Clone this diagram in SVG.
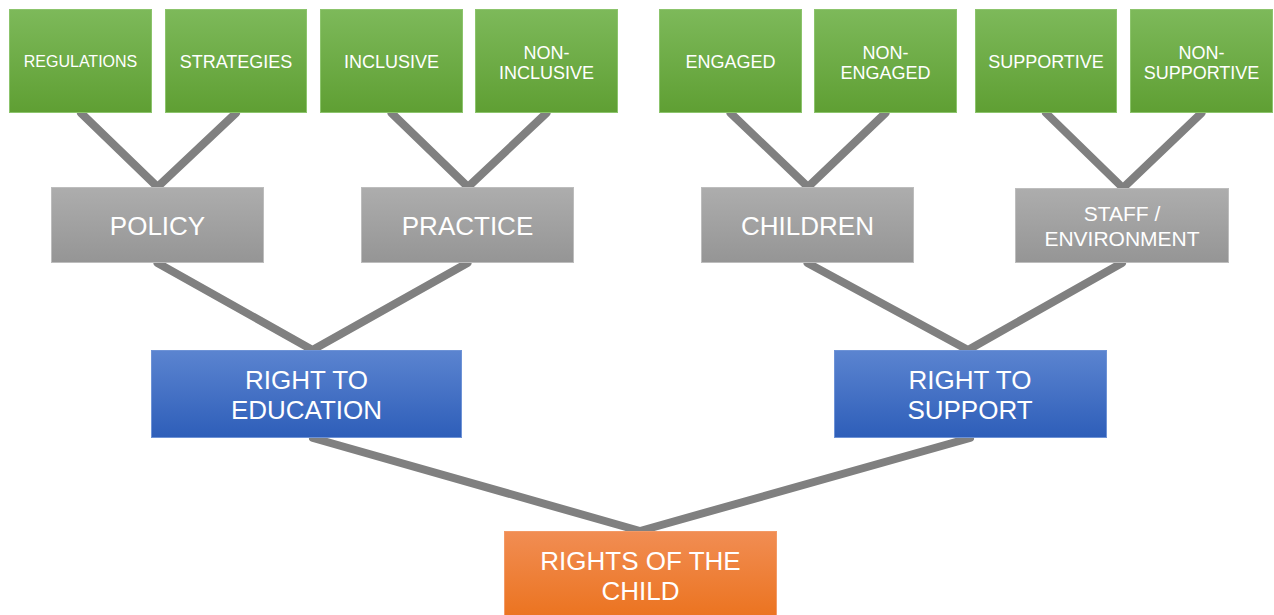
<svg xmlns="http://www.w3.org/2000/svg" width="1274" height="615" viewBox="0 0 1274 615">
<defs>
<linearGradient id="gGreen" x1="0" y1="0" x2="0" y2="1"><stop offset="0" stop-color="#7db95a"/><stop offset="1" stop-color="#5f9f33"/></linearGradient>
<linearGradient id="gGray" x1="0" y1="0" x2="0" y2="1"><stop offset="0" stop-color="#adadad"/><stop offset="1" stop-color="#959595"/></linearGradient>
<linearGradient id="gBlue" x1="0" y1="0" x2="0" y2="1"><stop offset="0" stop-color="#5b84d0"/><stop offset="1" stop-color="#2e5eb9"/></linearGradient>
<linearGradient id="gOrange" x1="0" y1="0" x2="0" y2="1"><stop offset="0" stop-color="#f18d53"/><stop offset="1" stop-color="#eb721d"/></linearGradient>
</defs>
<style>
.line{fill:none;stroke:#808080;stroke-width:8;stroke-linecap:round;stroke-linejoin:round}
.green{fill:url(#gGreen);stroke:#8cc46c;stroke-width:1}
.gray{fill:url(#gGray);stroke:#bdbdbd;stroke-width:1}
.blue{fill:url(#gBlue);stroke:#6e93d6;stroke-width:1}
.orange{fill:url(#gOrange);stroke:#f39a66;stroke-width:1}
text{font-family:"Liberation Sans",Arial,sans-serif;fill:#ffffff;text-anchor:middle}
.t18{font-size:18px}
.t16{font-size:16px}
.t21{font-size:21px}
.t26{font-size:26px}
</style>
<rect width="1274" height="615" fill="#ffffff"/>
<g id="connectors">
<polyline class="line" points="81,113 157.5,187 236,113"/>
<polyline class="line" points="391.5,113 468,187 546.5,113"/>
<polyline class="line" points="730.5,113 808,187 885.5,113"/>
<polyline class="line" points="1046,113 1123,188 1201.5,113"/>
<polyline class="line" points="157.5,263 312.5,350 467.5,263"/>
<polyline class="line" points="807.5,263 968,350 1122,263"/>
<polyline class="line" points="313,438 640,531 970,438"/>
</g>
<g id="regulations"><rect class="green" x="9.5" y="9.5" width="142" height="103"/><text class="t16" x="80.5" y="67">REGULATIONS</text></g>
<g id="strategies"><rect class="green" x="165.5" y="9.5" width="141" height="103"/><text class="t18" x="236" y="68">STRATEGIES</text></g>
<g id="inclusive"><rect class="green" x="320.5" y="9.5" width="142" height="103"/><text class="t18" x="391.5" y="68">INCLUSIVE</text></g>
<g id="non-inclusive"><rect class="green" x="475.5" y="9.5" width="142" height="103"/><text class="t18" x="546.5" y="59">NON-</text><text class="t18" x="546.5" y="79">INCLUSIVE</text></g>
<g id="engaged"><rect class="green" x="659.5" y="9.5" width="142" height="103"/><text class="t18" x="730.5" y="68">ENGAGED</text></g>
<g id="non-engaged"><rect class="green" x="814.5" y="9.5" width="142" height="103"/><text class="t18" x="885.5" y="59">NON-</text><text class="t18" x="885.5" y="79">ENGAGED</text></g>
<g id="supportive"><rect class="green" x="975.5" y="9.5" width="141" height="103"/><text class="t18" x="1046" y="68">SUPPORTIVE</text></g>
<g id="non-supportive"><rect class="green" x="1130.5" y="9.5" width="142" height="103"/><text class="t18" x="1201.5" y="59">NON-</text><text class="t18" x="1201.5" y="79">SUPPORTIVE</text></g>
<g id="policy"><rect class="gray" x="51.5" y="187.5" width="212" height="75"/><text class="t26" x="157.5" y="234.5">POLICY</text></g>
<g id="practice"><rect class="gray" x="361.5" y="187.5" width="212" height="75"/><text class="t26" x="467.5" y="234.5">PRACTICE</text></g>
<g id="children"><rect class="gray" x="701.5" y="187.5" width="212" height="75"/><text class="t26" x="807.5" y="234.5">CHILDREN</text></g>
<g id="staff-environment"><rect class="gray" x="1015.5" y="188.5" width="213" height="74"/><text class="t21" x="1122" y="221">STAFF /</text><text class="t21" x="1122" y="246">ENVIRONMENT</text></g>
<g id="right-to-education"><rect class="blue" x="151.5" y="350.5" width="310" height="87"/><text class="t26" x="306.5" y="389">RIGHT TO</text><text class="t26" x="306.5" y="419">EDUCATION</text></g>
<g id="right-to-support"><rect class="blue" x="834.5" y="350.5" width="272" height="87"/><text class="t26" x="970" y="389">RIGHT TO</text><text class="t26" x="970" y="419">SUPPORT</text></g>
<g id="rights-of-the-child"><rect class="orange" x="504.5" y="531.5" width="272" height="90"/><text class="t26" x="640.5" y="570">RIGHTS OF THE</text><text class="t26" x="640.5" y="600">CHILD</text></g>
</svg>
